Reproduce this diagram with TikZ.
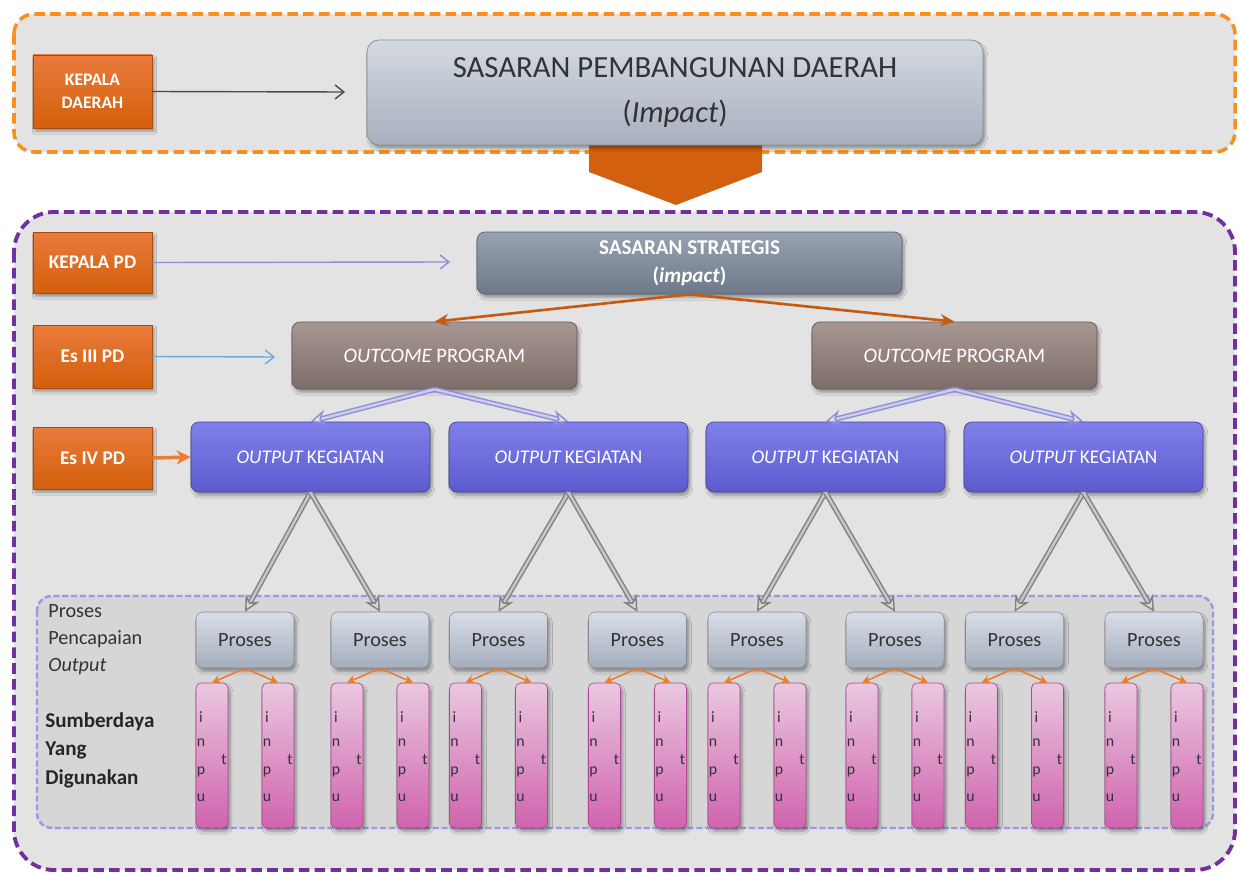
\documentclass[tikz,border=0pt]{standalone}
\usepackage{fontspec}
\setmainfont{Carlito}
\usetikzlibrary{positioning,arrows.meta,shadows.blur}
\definecolor{panel}{HTML}{E3E3E3}
\definecolor{panelin}{HTML}{D6D6D6}
\definecolor{orgdash}{HTML}{F7901E}
\definecolor{purdash}{HTML}{7030A0}
\definecolor{lavdash}{HTML}{9C99E0}
\definecolor{tagtop}{HTML}{E97B3C}
\definecolor{tagbot}{HTML}{D45F0B}
\definecolor{tagdk}{HTML}{A94A0C}
\definecolor{bigarr}{HTML}{D2600F}
\definecolor{spdtop}{HTML}{D4D9E1}
\definecolor{spdbot}{HTML}{A8B0BF}
\definecolor{sstop}{HTML}{98A3B1}
\definecolor{ssbot}{HTML}{6D7989}
\definecolor{octop}{HTML}{A79793}
\definecolor{ocbot}{HTML}{7E6E6A}
\definecolor{kgtop}{HTML}{8080EA}
\definecolor{kgbot}{HTML}{5B5BCE}
\definecolor{prtop}{HTML}{D8DEE7}
\definecolor{prbot}{HTML}{A4ADBC}
\definecolor{intop}{HTML}{EAC8E0}
\definecolor{inbot}{HTML}{D063AE}
\definecolor{indk}{HTML}{B4469A}
\definecolor{rust}{HTML}{C55A11}
\definecolor{lav}{HTML}{8E8ED8}
\definecolor{skyb}{HTML}{6FA8DC}
\definecolor{hot}{HTML}{EC7C30}
\definecolor{ink}{HTML}{333333}
\tikzset{
  soft shadow/.style={blur shadow={shadow blur steps=6, shadow xshift=1.2pt,
    shadow yshift=-2pt, shadow blur radius=1.5pt, shadow opacity=35}},
  tag/.style={draw=tagdk, line width=0.4pt, top color=tagtop, bottom color=tagbot,
    text=white, font=\fontsize{11}{13}\selectfont\bfseries, align=center,
    minimum width=23.8mm, inner sep=1pt, soft shadow},
  spd/.style={rounded corners=2.4mm, draw=spdbot!80!black, line width=0.4pt,
    top color=spdtop, bottom color=spdbot, text=ink, align=center,
    font=\fontsize{17.5}{26}\selectfont, minimum width=123.2mm, minimum height=21mm, soft shadow},
  strat/.style={rounded corners=1.6mm, draw=ssbot!80!black, line width=0.4pt,
    top color=sstop, bottom color=ssbot, text=white, align=center,
    font=\fontsize{12}{16}\selectfont\bfseries, minimum width=85mm, minimum height=12.4mm, soft shadow},
  outc/.style={rounded corners=1.6mm, draw=ocbot!80!black, line width=0.4pt,
    top color=octop, bottom color=ocbot, text=white,
    font=\fontsize{11.7}{14}\selectfont, minimum width=57mm, minimum height=13.4mm, soft shadow},
  kg/.style={rounded corners=1.6mm, draw=kgbot!75!black, line width=0.4pt,
    top color=kgtop, bottom color=kgbot, text=white,
    font=\fontsize{11}{13}\selectfont, minimum width=47.8mm, minimum height=14mm, soft shadow},
  prs/.style={rounded corners=1.4mm, draw=prbot!80!black, line width=0.3pt,
    top color=prtop, bottom color=prbot, text=ink,
    font=\fontsize{11.5}{14}\selectfont, minimum width=19.6mm, minimum height=11.2mm, soft shadow},
  inp/.style={rounded corners=1mm, draw=indk, line width=0.4pt,
    top color=intop, bottom color=inbot, minimum width=6.4mm, minimum height=29mm, soft shadow},
  lt/.style={font=\fontsize{9}{9}\selectfont, text=ink, inner sep=0pt},
  side/.style={anchor=north west, align=left, inner sep=0pt, text=ink},
  lnk/.style={-{Straight Barb[length=5pt,width=8pt]}, line width=0.8pt, color=#1},
  strarr/.style={-{Stealth[length=8pt,width=7pt]}, line width=1.5pt, color=rust},
  dbl/.style={-{Stealth[open,length=9pt,width=9pt]}, draw=#1, double=#1!45!white,
    double distance=1.4pt, line width=0.8pt},
  bidir/.style={{Stealth[length=5pt,width=5pt]}-{Stealth[length=5pt,width=5pt]},
    line width=0.9pt, color=hot, rounded corners=4pt},
}
\begin{document}
\begin{tikzpicture}[x=0.2mm,y=-0.2mm]
  \useasboundingbox (0,0) rectangle (1240,873);
  % daerah
  \draw[orgdash, line width=2pt, dash pattern=on 6pt off 3pt, fill=panel, rounded corners=4mm]
    (14,14) rectangle (1235,152);
  \fill[bigarr] (589,140) -- (762,140) -- (762,172) -- (676,205) -- (589,172) -- cycle;
  \node[tag, minimum height=14.6mm, font=\fontsize{10}{13}\selectfont\bfseries] (kd) at (92.5,91.5) {KEPALA\\DAERAH};
  \node[spd] (spd) at (675,92.5) {SASARAN PEMBANGUNAN DAERAH\\(\textit{Impact})};
  \coordinate (kdEnd) at (345,92);
  \draw[lnk=black!70] (kd.east) -- (kdEnd);

  % perangkat daerah
  \draw[purdash, line width=2.2pt, dash pattern=on 6pt off 3pt, fill=panel, rounded corners=8mm]
    (14,212) rectangle (1235,870);
  \draw[lavdash, line width=1.4pt, dash pattern=on 3.5pt off 1.5pt, fill=panelin, rounded corners=3mm]
    (37,596) rectangle (1213,828);

  \node[tag, minimum height=12.2mm] (kpd) at (92.5,262.5) {KEPALA PD};
  \node[tag, minimum height=12.6mm] (es3) at (92.5,356.5) {Es III PD};
  \node[tag, minimum height=12.4mm] (es4) at (92.5,458) {Es IV PD};

  \node[strat] (ss) at (689.5,263) {SASARAN STRATEGIS\\(\textit{impact})};
  \node[outc] (oc1) at (434.5,355.5) {\textit{OUTCOME} PROGRAM};
  \node[outc] (oc2) at (954.5,355.5) {\textit{OUTCOME} PROGRAM};
  \foreach \x [count=\i] in {310.5,568.5,825.5,1083.5}
    \node[kg] (kg\i) at (\x,457) {\textit{OUTPUT}\,KEGIATAN};

  \coordinate (kpdEnd) at (450,262);
  \coordinate (es3End) at (275,357);
  \draw[lnk=lav] (kpd.east) -- (kpdEnd);
  \draw[lnk=skyb] (es3.east) -- (es3End);
  \draw[-{Stealth[length=8pt,width=8pt]}, line width=2pt, color=hot] (es4.east) -- (kg1.west);

  \draw[strarr] (ss.south) -- (oc1.north);
  \draw[strarr] (ss.south) -- (oc2.north);
  \foreach \o/\a/\b in {oc1/kg1/kg2, oc2/kg3/kg4} {
    \draw[dbl=lav] (\o.south) -- (\a.north);
    \draw[dbl=lav] (\o.south) -- (\b.north);
  }

  % proses dan input
  \node[side, font=\fontsize{11.5}{15.4}\selectfont] (lblProses) at (48,604)
    {Proses\\Pencapaian\\\textit{Output}};
  \node[side, font=\fontsize{12}{16.2}\selectfont\bfseries, text=black!85] (lblSumber) at (45,712)
    {Sumberdaya\\Yang\\Digunakan};
  \foreach \c [count=\i] in {245,380,498.5,637.5,757,895,1014.5,1154} {
    \node[prs] (p\i) at (\c,640) {Proses};
    \foreach \s/\k in {-33/a,33/b} {
      \node[inp] (in\k\i) at (\c+\s,755.5) {};
      \foreach \ch/\y in {i/717,n/743,p/772,u/798}
        \node[lt] at (\c+\s-11,\y) {\ch};
      \node[lt] at (\c+\s+12,760) {t};
    }
    \draw[bidir] (ina\i.north) -- (p\i.south) -- (inb\i.north);
  }
  \foreach \k/\a/\b in {1/1/2,2/3/4,3/5/6,4/7/8} {
    \draw[dbl=gray] (kg\k.south) -- (p\a.north);
    \draw[dbl=gray] (kg\k.south) -- (p\b.north);
  }
\end{tikzpicture}
\end{document}
